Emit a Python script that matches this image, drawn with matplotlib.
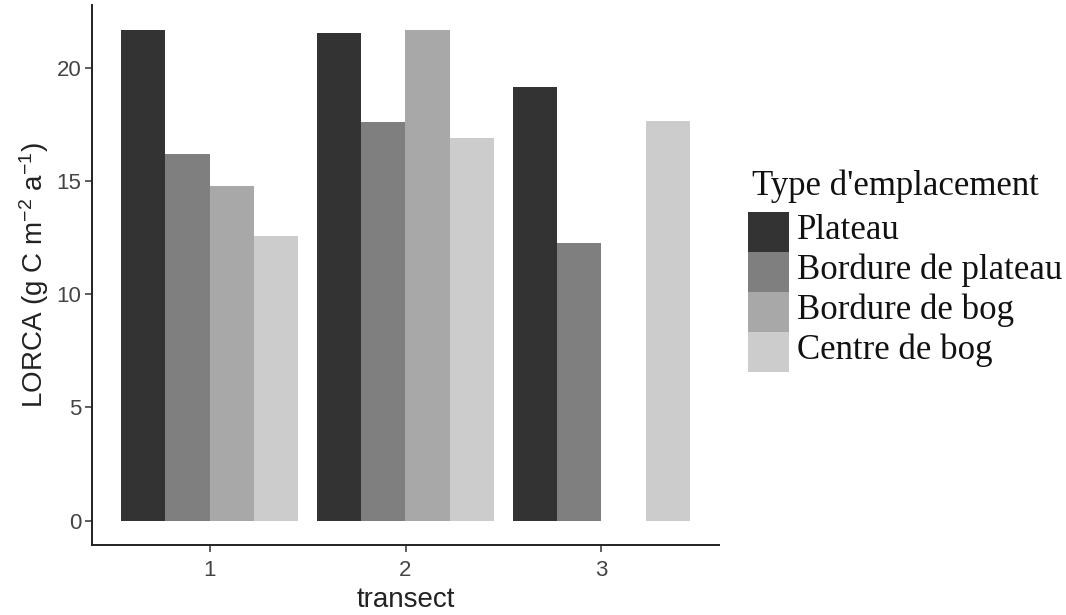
import numpy as np
import matplotlib
matplotlib.use("Agg")
import matplotlib.pyplot as plt
from matplotlib import font_manager
from matplotlib.patches import Rectangle

# Data
transects = [1, 2, 3]
site_types = ["Plateau", "Bordure de plateau", "Bordure de bog", "Centre de bog"]
plateau = [21.68, 21.55, 19.16]
bordure_plateau = [16.19, 17.61, 12.26]
bordure_bog = [14.78, 21.68, np.nan]
centre_bog = [12.57, 16.90, 17.65]
fill_colors = ["#333333", "#7F7F7F", "#A8A8A8", "#CCCCCC"]

series = [plateau, bordure_plateau, bordure_bog, centre_bog]


def pick_font(candidates):
    for name in candidates:
        try:
            font_manager.findfont(name, fallback_to_default=False)
            return name
        except Exception:
            continue
    return "DejaVu Sans"


sans = pick_font(["Liberation Sans Narrow", "Arial Narrow", "Liberation Sans"])
serif = pick_font(["Liberation Serif", "DejaVu Serif"])

plt.rcParams["mathtext.fontset"] = "custom"
plt.rcParams["mathtext.rm"] = sans
plt.rcParams["mathtext.it"] = sans
plt.rcParams["mathtext.bf"] = sans

W, H = 1066, 615
fig = plt.figure(figsize=(W / 100, H / 100), dpi=100)
ax_left, ax_right, ax_top, ax_bottom = 92, 719, 5, 545
ax = fig.add_axes([ax_left / W, 1 - ax_bottom / H,
                   (ax_right - ax_left) / W, (ax_bottom - ax_top) / H])

n = len(series)
group_w = 0.9
bar_w = group_w / n
x = np.array(transects, dtype=float)
for i, (vals, col) in enumerate(zip(series, fill_colors)):
    offs = -group_w / 2 + bar_w * (i + 0.5)
    ax.bar(x + offs, vals, width=bar_w, color=col, edgecolor="none", label=site_types[i])

ax.set_xlim(0.4, 3.6)
ax.set_ylim(-1.08, 22.78)
ax.set_xticks(transects)
ax.set_xticklabels([str(t) for t in transects])
ax.set_yticks([0, 5, 10, 15, 20])

for s in ["top", "right"]:
    ax.spines[s].set_visible(False)
for s in ["left", "bottom"]:
    ax.spines[s].set_linewidth(1.4)
    ax.spines[s].set_color("#222222")

ax.tick_params(axis="both", length=5, width=1.1, color="#333333",
               labelsize=16, labelcolor="#444444")
ax.tick_params(axis="x", pad=5.5)
ax.tick_params(axis="y", pad=2.5)
for lab in ax.get_xticklabels() + ax.get_yticklabels():
    lab.set_family(sans)

ax.set_xlabel("transect", family=sans, fontsize=20, color="#222222", labelpad=4.5)
ax.set_ylabel(r"LORCA (g C m$^{-2}$ a$^{-1}$)", family=sans,
              fontsize=20, color="#222222", labelpad=4)

# Legend drawn as key squares and labels in figure pixel space
fx = lambda px: px / W
fy = lambda py: 1 - py / H
fig.text(fx(752), fy(195), "Type d'emplacement", family=serif, fontsize=25,
         color="#111111", ha="left", va="baseline")
key_x0, key_w, key_h, key_top = 748, 41, 40, 212
for i, (lab, col) in enumerate(zip(site_types, fill_colors)):
    top = key_top + i * key_h
    fig.patches.append(Rectangle((fx(key_x0), fy(top + key_h)), key_w / W, key_h / H,
                                 transform=fig.transFigure, facecolor=col,
                                 edgecolor="none"))
    fig.text(fx(797), fy(top + 27), lab, family=serif, fontsize=25,
             color="#111111", ha="left", va="baseline")

fig.savefig("out.png", dpi=100)
